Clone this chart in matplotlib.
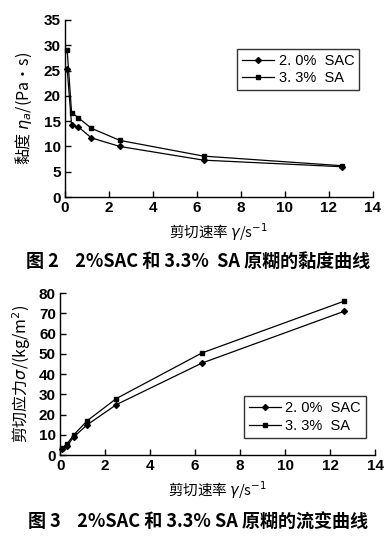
import numpy as np
import matplotlib
matplotlib.use("Agg")
import matplotlib.pyplot as plt

plt.rcParams['font.family'] = ['Liberation Sans', 'Noto Sans CJK SC', 'DejaVu Sans']

# shear rate (s^-1)
rate = [0.1, 0.3, 0.6, 1.2, 2.5, 6.3, 12.6]

# viscosity (Pa.s)
visc_sac = [25.3, 14.2, 13.9, 11.7, 10.0, 7.3, 6.0]
visc_sa = [29.0, 16.7, 15.7, 13.6, 11.2, 8.1, 6.2]

# shear stress (kg/m2)
stress_sac = [3.0, 4.5, 9.0, 15.0, 25.0, 45.5, 71.0]
stress_sa = [3.5, 5.5, 10.0, 17.0, 28.0, 50.5, 76.0]

labels = ['2. 0%  SAC', '3. 3%  SA']
xticks = [0, 2, 4, 6, 8, 10, 12, 14]

cjk = ['Noto Sans CJK SC', 'DejaVu Sans']

fig = plt.figure(figsize=(3.88, 5.40), dpi=100)


def style(ax, ylim, yticks):
    ax.set_xlim(0, 14)
    ax.set_ylim(*ylim)
    ax.set_xticks(xticks)
    ax.set_yticks(yticks)
    ax.spines['top'].set_visible(False)
    ax.spines['right'].set_visible(False)
    for s in ['left', 'bottom']:
        ax.spines[s].set_linewidth(1.0)
    ax.tick_params(direction='in', length=4, width=1, labelsize=11, pad=3)
    for t in ax.get_xticklabels() + ax.get_yticklabels():
        t.set_fontweight('bold')


def draw(ax, a, b, loc):
    ax.plot(rate, a, color='black', lw=0.9, marker='D', ms=3, label=labels[0], clip_on=False)
    ax.plot(rate, b, color='black', lw=0.9, marker='s', ms=3.5, label=labels[1], clip_on=False)
    leg = ax.legend(loc='upper left', bbox_to_anchor=loc, frameon=True, fancybox=False,
                    edgecolor='black', fontsize=10.5, handlelength=2.2, borderpad=0.35,
                    labelspacing=0.25, handletextpad=0.3)
    leg.get_frame().set_linewidth(1.0)


# top: viscosity curves
ax1 = fig.add_axes([0.1675, 0.635, 0.7935, 0.328])
draw(ax1, visc_sac, visc_sa, (0.535, 0.88))
style(ax1, (0, 35), [0, 5, 10, 15, 20, 25, 30, 35])
ax1.set_ylabel('黏度 $\\eta_a$/(Pa·s)', family=cjk, fontsize=11.5, labelpad=7)
ax1.set_xlabel('剪切速率 $\\gamma$/s$^{-1}$', family=cjk, fontsize=10.5, labelpad=4)
fig.text(0.51, 0.515, '图 2    2%SAC 和 3.3%  SA 原糊的黏度曲线', family=cjk,
         fontsize=13, fontweight='bold', ha='center', va='center')

# bottom: flow curves
ax2 = fig.add_axes([0.155, 0.157, 0.812, 0.300])
draw(ax2, stress_sac, stress_sa, (0.56, 0.41))
style(ax2, (0, 80), [0, 10, 20, 30, 40, 50, 60, 70, 80])
ax2.set_ylabel('剪切应力$\\sigma$/(kg/m$^2$)', family=cjk, fontsize=11.5, labelpad=4)
ax2.set_xlabel('剪切速率 $\\gamma$/s$^{-1}$', family=cjk, fontsize=10.5, labelpad=4)
fig.text(0.51, 0.033, '图 3    2%SAC 和 3.3% SA 原糊的流变曲线', family=cjk,
         fontsize=13, fontweight='bold', ha='center', va='center')

fig.savefig('out.png', dpi=100)
